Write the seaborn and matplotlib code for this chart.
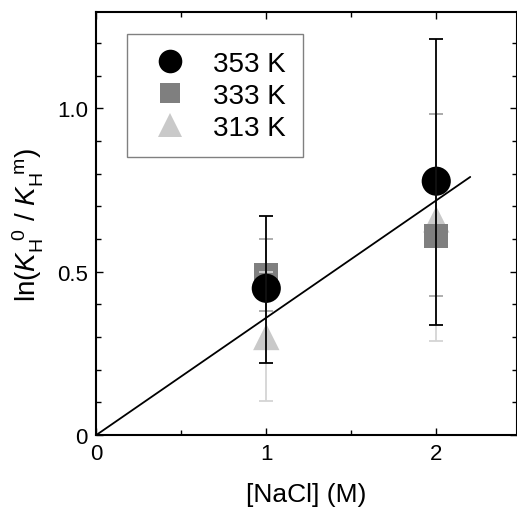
import matplotlib
matplotlib.use("Agg")
import matplotlib.pyplot as plt
import seaborn as sns
import pandas as pd
from matplotlib.lines import Line2D
from matplotlib.ticker import MultipleLocator

# ---- data ----
nacl = [1, 2]
series = ["353 K", "333 K", "313 K"]
y353 = [0.449, 0.777]
lo353 = [0.219, 0.337]
hi353 = [0.669, 1.212]
y333 = [0.490, 0.610]
lo333 = [0.380, 0.425]
hi333 = [0.600, 0.983]
y313 = [0.300, 0.660]
lo313 = [0.105, 0.289]
hi313 = [0.500, 0.983]
fit_x = [0.0, 2.2]
fit_y = [0.0, 0.790]
xticks = [0, 1, 2]
xticklabels = ["0", "1", "2"]
yticks = [0, 0.5, 1.0]
yticklabels = ["0", "0.5", "1.0"]

sns.set_theme(style="ticks")
plt.rcParams["font.family"] = ["Liberation Sans", "DejaVu Sans"]
plt.rcParams["mathtext.fontset"] = "custom"
plt.rcParams["mathtext.rm"] = "Liberation Sans"
plt.rcParams["mathtext.it"] = "Liberation Sans:italic"
plt.rcParams["text.color"] = "black"
plt.rcParams["axes.labelcolor"] = "black"
plt.rcParams["xtick.labelcolor"] = "black"
plt.rcParams["ytick.labelcolor"] = "black"

fig = plt.figure(figsize=(5.17, 5.10), dpi=100)
ax = fig.add_axes([0.1863, 0.1451, 0.8130, 0.8288])

styles = {
    "353 K": dict(y=y353, lo=lo353, hi=hi353, marker="o", color="#000000", ecolor="#000000", s=440, z=4),
    "333 K": dict(y=y333, lo=lo333, hi=hi333, marker="s", color="#7f7f7f", ecolor="#a8a8a8", s=300, z=3),
    "313 K": dict(y=y313, lo=lo313, hi=hi313, marker="^", color="#c9c9c9", ecolor="#d4d4d4", s=360, z=2),
}

sns.lineplot(x=fit_x, y=fit_y, ax=ax, color="black", linewidth=1.3, zorder=6)

for name in ["313 K", "333 K", "353 K"]:
    st = styles[name]
    df = pd.DataFrame({"x": nacl, "y": st["y"]})
    sns.scatterplot(data=df, x="x", y="y", ax=ax, marker=st["marker"], color=st["color"],
                    s=st["s"], edgecolor="none", linewidth=0, zorder=st["z"], legend=False)
    yerr = [[a - b for a, b in zip(st["y"], st["lo"])], [b - a for a, b in zip(st["y"], st["hi"])]]
    ax.errorbar(nacl, st["y"], yerr=yerr, fmt="none", ecolor=st["ecolor"],
                elinewidth=1.3, capsize=5, capthick=1.3, zorder=5 + (1 if name == "353 K" else 0))

handles = []
for name in series:
    st = styles[name]
    ms = {"o": 17, "s": 14, "^": 17}[st["marker"]]
    handles.append(Line2D([], [], linestyle="none", marker=st["marker"], color=st["color"],
                          markersize=ms, markeredgewidth=0, label=name))

leg = ax.legend(handles=handles, loc="upper left", bbox_to_anchor=(0.073, 0.949),
                fontsize=20, frameon=True, fancybox=False, framealpha=1,
                borderpad=0.6, labelspacing=0.22, handletextpad=0.6, handlelength=1.9,
                borderaxespad=0)
leg.get_frame().set_edgecolor("#808080")
leg.get_frame().set_linewidth(1.0)

ax.set_xlim(0, 2.473)
ax.set_ylim(0, 1.294)
ax.set_xticks(xticks)
ax.set_xticklabels(xticklabels)
ax.set_yticks(yticks)
ax.set_yticklabels(yticklabels)
ax.xaxis.set_minor_locator(MultipleLocator(0.5))
ax.yaxis.set_minor_locator(MultipleLocator(0.1))
ax.tick_params(which="both", direction="in", top=True, right=True, labelsize=16,
               width=1.0, color="black", pad=6)
ax.tick_params(which="major", length=5)
ax.tick_params(which="minor", length=3.5)
for sp in ax.spines.values():
    sp.set_visible(True)
    sp.set_linewidth(1.5)
    sp.set_color("black")

ax.set_xlabel("[NaCl] (M)", fontsize=19, labelpad=13)
ax.set_ylabel(r"ln($K_\mathrm{H}^{\ \ 0}$ / $K_\mathrm{H}^{\ \ \mathrm{m}}$)", fontsize=20, labelpad=8)

fig.savefig("out.png", dpi=100)
